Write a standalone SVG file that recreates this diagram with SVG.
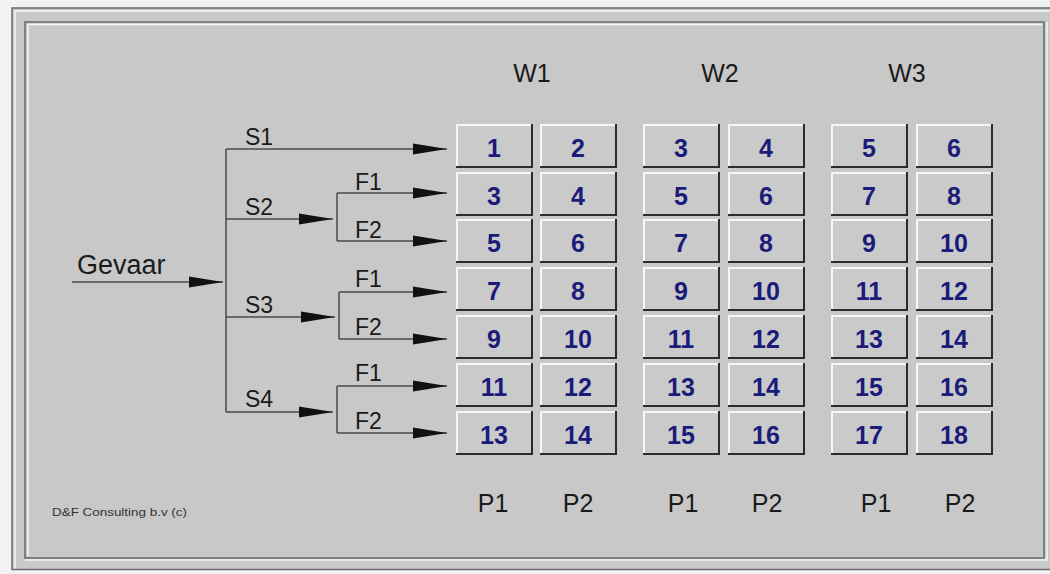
<svg xmlns="http://www.w3.org/2000/svg" xmlns:xlink="http://www.w3.org/1999/xlink" width="1050" height="574" viewBox="0 0 1050 574">
<style>
.lbl{font-family:"Liberation Sans",Arial,sans-serif;fill:#1a1a1a}
.big{font-size:25px}
.mid{font-size:23px}
.gev{font-size:27px}
.num{font-family:"Liberation Sans",Arial,sans-serif;font-weight:bold;font-size:25px;fill:#1b1b7a;text-anchor:middle}
.foot{font-family:"Liberation Sans",Arial,sans-serif;font-size:11px;fill:#333}
.ln{fill:none;stroke:#4a4a4a;stroke-width:1.5}
.arr{marker-end:url(#ah)}
.dk{fill:none;stroke:#6a6a6a;stroke-width:1.5}
.wt{fill:none;stroke:#f4f4f4;stroke-width:1.5}
</style>
<defs>
<marker id="ah" markerUnits="userSpaceOnUse" markerWidth="36" markerHeight="14" refX="34" refY="7" orient="auto">
<path d="M0,1.5 L34,7 L0,12.5 Z" fill="#111"/>
</marker>
<g id="btn">
<rect x="0" y="0" width="77" height="44" fill="#cacaca"/>
<path d="M1,42 V1 H75" fill="none" stroke="#f6f6f6" stroke-width="2"/>
<path d="M0,43 H76 V0" fill="none" stroke="#2c2c2c" stroke-width="2"/>
</g>
</defs>
<rect x="0" y="0" width="1050" height="574" fill="#f2f2f2"/>
<rect x="12" y="8" width="1040" height="562" fill="#c9c9c9"/>
<g id="frame">
<path class="dk" d="M12,570 V8 H1050"/>
<path class="wt" d="M15,570 V11 H1050"/>
<path class="dk" d="M12,569.5 H1050"/>
<rect x="25" y="22" width="1019" height="536" fill="#c8c8c8"/>
<path class="dk" d="M25,558 V22 H1044 V558 Z"/>
<path class="wt" d="M28,556 V24.5 H1042"/>
<path class="wt" d="M25,560 H1047 V22"/>
</g>
<g id="connectors">
<path class="ln arr" d="M72,282 H223"/>
<path class="ln" d="M226,149 V412"/>
<path class="ln arr" d="M226,149 H447"/>
<path class="ln arr" d="M226,219 H333"/>
<path class="ln arr" d="M226,317 H335"/>
<path class="ln arr" d="M226,412 H333"/>
<path class="ln" d="M337,193 V241"/>
<path class="ln arr" d="M337,193 H447"/>
<path class="ln arr" d="M337,241 H447"/>
<path class="ln" d="M339,292 V339"/>
<path class="ln arr" d="M339,292 H447"/>
<path class="ln arr" d="M339,339 H447"/>
<path class="ln" d="M337,386 V433"/>
<path class="ln arr" d="M337,386 H447"/>
<path class="ln arr" d="M337,433 H447"/>
</g>
<g id="labels">
<text class="lbl gev" x="77" y="274">Gevaar</text>
<text class="lbl mid" x="245" y="145">S1</text>
<text class="lbl mid" x="245" y="215">S2</text>
<text class="lbl mid" x="245" y="313">S3</text>
<text class="lbl mid" x="245" y="407">S4</text>
<text class="lbl mid" x="355" y="190">F1</text>
<text class="lbl mid" x="355" y="238">F2</text>
<text class="lbl mid" x="355" y="287">F1</text>
<text class="lbl mid" x="355" y="335">F2</text>
<text class="lbl mid" x="355" y="381">F1</text>
<text class="lbl mid" x="355" y="429">F2</text>
<text class="lbl big" x="532" y="82" text-anchor="middle">W1</text>
<text class="lbl big" x="720" y="82" text-anchor="middle">W2</text>
<text class="lbl big" x="907" y="82" text-anchor="middle">W3</text>
<text class="lbl big" x="493" y="512" text-anchor="middle">P1</text>
<text class="lbl big" x="578" y="512" text-anchor="middle">P2</text>
<text class="lbl big" x="683" y="512" text-anchor="middle">P1</text>
<text class="lbl big" x="767" y="512" text-anchor="middle">P2</text>
<text class="lbl big" x="876" y="512" text-anchor="middle">P1</text>
<text class="lbl big" x="960" y="512" text-anchor="middle">P2</text>
<text class="foot" x="52" y="516" textLength="135" lengthAdjust="spacingAndGlyphs">D&amp;F Consulting b.v (c)</text>
</g>
<g id="w1p1r1"><use xlink:href="#btn" x="456" y="124"/><text class="num" x="494" y="157">1</text></g>
<g id="w1p1r2"><use xlink:href="#btn" x="456" y="172"/><text class="num" x="494" y="205">3</text></g>
<g id="w1p1r3"><use xlink:href="#btn" x="456" y="219"/><text class="num" x="494" y="252">5</text></g>
<g id="w1p1r4"><use xlink:href="#btn" x="456" y="267"/><text class="num" x="494" y="300">7</text></g>
<g id="w1p1r5"><use xlink:href="#btn" x="456" y="315"/><text class="num" x="494" y="348">9</text></g>
<g id="w1p1r6"><use xlink:href="#btn" x="456" y="363"/><text class="num" x="494" y="396">11</text></g>
<g id="w1p1r7"><use xlink:href="#btn" x="456" y="411"/><text class="num" x="494" y="444">13</text></g>
<g id="w1p2r1"><use xlink:href="#btn" x="540" y="124"/><text class="num" x="578" y="157">2</text></g>
<g id="w1p2r2"><use xlink:href="#btn" x="540" y="172"/><text class="num" x="578" y="205">4</text></g>
<g id="w1p2r3"><use xlink:href="#btn" x="540" y="219"/><text class="num" x="578" y="252">6</text></g>
<g id="w1p2r4"><use xlink:href="#btn" x="540" y="267"/><text class="num" x="578" y="300">8</text></g>
<g id="w1p2r5"><use xlink:href="#btn" x="540" y="315"/><text class="num" x="578" y="348">10</text></g>
<g id="w1p2r6"><use xlink:href="#btn" x="540" y="363"/><text class="num" x="578" y="396">12</text></g>
<g id="w1p2r7"><use xlink:href="#btn" x="540" y="411"/><text class="num" x="578" y="444">14</text></g>
<g id="w2p1r1"><use xlink:href="#btn" x="643" y="124"/><text class="num" x="681" y="157">3</text></g>
<g id="w2p1r2"><use xlink:href="#btn" x="643" y="172"/><text class="num" x="681" y="205">5</text></g>
<g id="w2p1r3"><use xlink:href="#btn" x="643" y="219"/><text class="num" x="681" y="252">7</text></g>
<g id="w2p1r4"><use xlink:href="#btn" x="643" y="267"/><text class="num" x="681" y="300">9</text></g>
<g id="w2p1r5"><use xlink:href="#btn" x="643" y="315"/><text class="num" x="681" y="348">11</text></g>
<g id="w2p1r6"><use xlink:href="#btn" x="643" y="363"/><text class="num" x="681" y="396">13</text></g>
<g id="w2p1r7"><use xlink:href="#btn" x="643" y="411"/><text class="num" x="681" y="444">15</text></g>
<g id="w2p2r1"><use xlink:href="#btn" x="728" y="124"/><text class="num" x="766" y="157">4</text></g>
<g id="w2p2r2"><use xlink:href="#btn" x="728" y="172"/><text class="num" x="766" y="205">6</text></g>
<g id="w2p2r3"><use xlink:href="#btn" x="728" y="219"/><text class="num" x="766" y="252">8</text></g>
<g id="w2p2r4"><use xlink:href="#btn" x="728" y="267"/><text class="num" x="766" y="300">10</text></g>
<g id="w2p2r5"><use xlink:href="#btn" x="728" y="315"/><text class="num" x="766" y="348">12</text></g>
<g id="w2p2r6"><use xlink:href="#btn" x="728" y="363"/><text class="num" x="766" y="396">14</text></g>
<g id="w2p2r7"><use xlink:href="#btn" x="728" y="411"/><text class="num" x="766" y="444">16</text></g>
<g id="w3p1r1"><use xlink:href="#btn" x="831" y="124"/><text class="num" x="869" y="157">5</text></g>
<g id="w3p1r2"><use xlink:href="#btn" x="831" y="172"/><text class="num" x="869" y="205">7</text></g>
<g id="w3p1r3"><use xlink:href="#btn" x="831" y="219"/><text class="num" x="869" y="252">9</text></g>
<g id="w3p1r4"><use xlink:href="#btn" x="831" y="267"/><text class="num" x="869" y="300">11</text></g>
<g id="w3p1r5"><use xlink:href="#btn" x="831" y="315"/><text class="num" x="869" y="348">13</text></g>
<g id="w3p1r6"><use xlink:href="#btn" x="831" y="363"/><text class="num" x="869" y="396">15</text></g>
<g id="w3p1r7"><use xlink:href="#btn" x="831" y="411"/><text class="num" x="869" y="444">17</text></g>
<g id="w3p2r1"><use xlink:href="#btn" x="916" y="124"/><text class="num" x="954" y="157">6</text></g>
<g id="w3p2r2"><use xlink:href="#btn" x="916" y="172"/><text class="num" x="954" y="205">8</text></g>
<g id="w3p2r3"><use xlink:href="#btn" x="916" y="219"/><text class="num" x="954" y="252">10</text></g>
<g id="w3p2r4"><use xlink:href="#btn" x="916" y="267"/><text class="num" x="954" y="300">12</text></g>
<g id="w3p2r5"><use xlink:href="#btn" x="916" y="315"/><text class="num" x="954" y="348">14</text></g>
<g id="w3p2r6"><use xlink:href="#btn" x="916" y="363"/><text class="num" x="954" y="396">16</text></g>
<g id="w3p2r7"><use xlink:href="#btn" x="916" y="411"/><text class="num" x="954" y="444">18</text></g>
</svg>
